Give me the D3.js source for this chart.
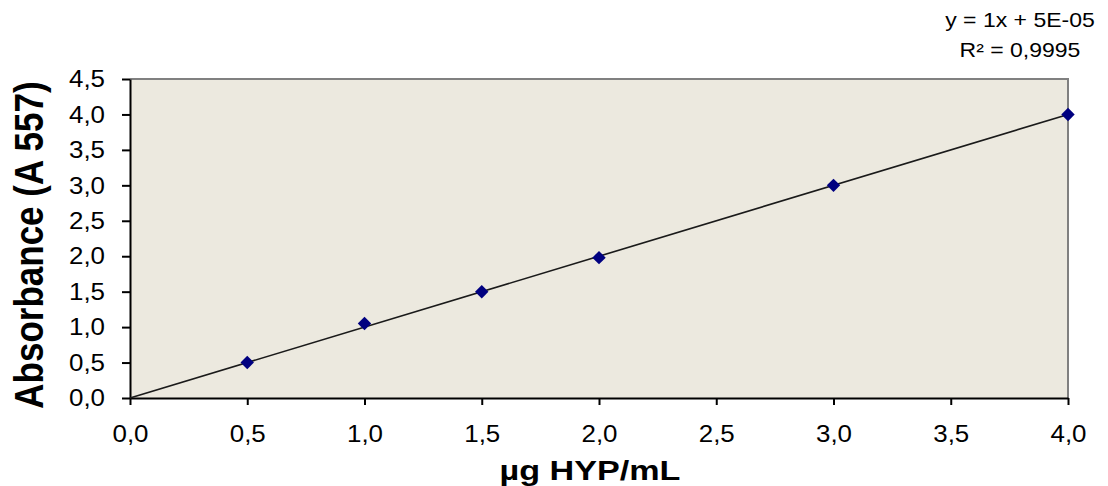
<!DOCTYPE html>
<html>
<head>
  <meta charset="utf-8">
  <title>HYP calibration</title>
  <script src="https://d3js.org/d3.v7.min.js"></script>
</head>

<body style="margin:0px; overflow:hidden; background:#fff;">
  <svg id="myPlot" width="1108" height="486"></svg>

  <script>
    // Data
    const concentrations = [0.5, 1.0, 1.5, 2.0, 3.0, 4.0];
    const absorbances = [0.5, 1.05, 1.5, 1.98, 3.0, 4.0];
    const xTicks = [0, 0.5, 1.0, 1.5, 2.0, 2.5, 3.0, 3.5, 4.0];
    const yTicks = [0, 0.5, 1.0, 1.5, 2.0, 2.5, 3.0, 3.5, 4.0, 4.5];
    const slope = 1;
    const intercept = 0.00005;
    const equationLines = ["y = 1x + 5E-05", "R² = 0,9995"];

    // Dimensions
    const plotLeft = 130, plotRight = 1068, plotTop = 79, plotBottom = 398;
    const labelStretch = 1.08;
    const fmt = d => d3.format(".1f")(d).replace(".", ",");

    const svg = d3.select("#myPlot");

    const x = d3.scaleLinear().domain([0, 4]).range([plotLeft, plotRight]);
    const y = d3.scaleLinear().domain([0, 4.5]).range([plotBottom, plotTop]);

    // Plot background
    svg.append("rect")
      .attr("x", plotLeft).attr("y", plotTop)
      .attr("width", plotRight - plotLeft).attr("height", plotBottom - plotTop)
      .attr("fill", "#ECE9DF");

    // Top and right border (grey)
    svg.append("path")
      .attr("d", "M" + plotLeft + "," + plotTop + "H" + plotRight + "V" + plotBottom)
      .attr("fill", "none")
      .attr("stroke", "#808080")
      .attr("stroke-width", 2);

    // X Axis
    const xAxis = svg.append("g")
      .attr("transform", "translate(0," + plotBottom + ")")
      .call(d3.axisBottom(x).tickValues(xTicks).tickFormat(fmt).tickSize(7).tickPadding(20).tickSizeOuter(0));

    // Y Axis (label offset is stretched along with the text)
    const yAxis = svg.append("g")
      .attr("transform", "translate(" + plotLeft + ",0)")
      .call(d3.axisLeft(y).tickValues(yTicks).tickFormat(fmt).tickSize(8).tickPadding(25 / labelStretch - 8).tickSizeOuter(0));

    [xAxis, yAxis].forEach(a => {
      a.attr("font-size", 24).attr("font-family", "'Liberation Sans', Arial, sans-serif");
      a.select(".domain").attr("stroke", "#000").attr("stroke-width", 2);
      a.selectAll(".tick line").attr("stroke", "#000").attr("stroke-width", 2);
      a.selectAll(".tick text")
        .attr("fill", "#000")
        .attr("transform", "scale(" + labelStretch + ",1)");
    });

    // Trend line
    svg.append("line")
      .attr("x1", x(0)).attr("y1", y(slope * 0 + intercept))
      .attr("x2", x(4)).attr("y2", y(slope * 4 + intercept))
      .attr("stroke", "#1a1a1a")
      .attr("stroke-width", 1.6);

    // Points (diamonds)
    svg.append("g")
      .selectAll("path")
      .data(concentrations)
      .enter()
      .append("path")
      .attr("d", d3.symbol().type(d3.symbolSquare).size(90))
      .attr("transform", (d, i) => "translate(" + x(d) + "," + y(absorbances[i]) + ") rotate(45)")
      .attr("fill", "#000080");

    // Axis titles
    svg.append("text")
      .attr("transform", "translate(43,245) rotate(-90) scale(1,1.18)")
      .attr("text-anchor", "middle")
      .style("font-family", "'Liberation Sans', Arial, sans-serif")
      .style("font-weight", "bold")
      .style("font-size", "35px")
      .text("Absorbance (A 557)");

    svg.append("text")
      .attr("transform", "translate(590,480) scale(1.22,1)")
      .attr("text-anchor", "middle")
      .style("font-family", "'Liberation Sans', Arial, sans-serif")
      .style("font-weight", "bold")
      .style("font-size", "28px")
      .text("µg HYP/mL");

    // Equation
    svg.append("g")
      .selectAll("text")
      .data(equationLines)
      .enter()
      .append("text")
      .attr("transform", (d, i) => "translate(1020," + (27 + i * 30) + ") scale(1.15,1)")
      .attr("text-anchor", "middle")
      .style("font-family", "'Liberation Sans', Arial, sans-serif")
      .style("font-size", "20px")
      .text(d => d);
  </script>
</body>
</html>
